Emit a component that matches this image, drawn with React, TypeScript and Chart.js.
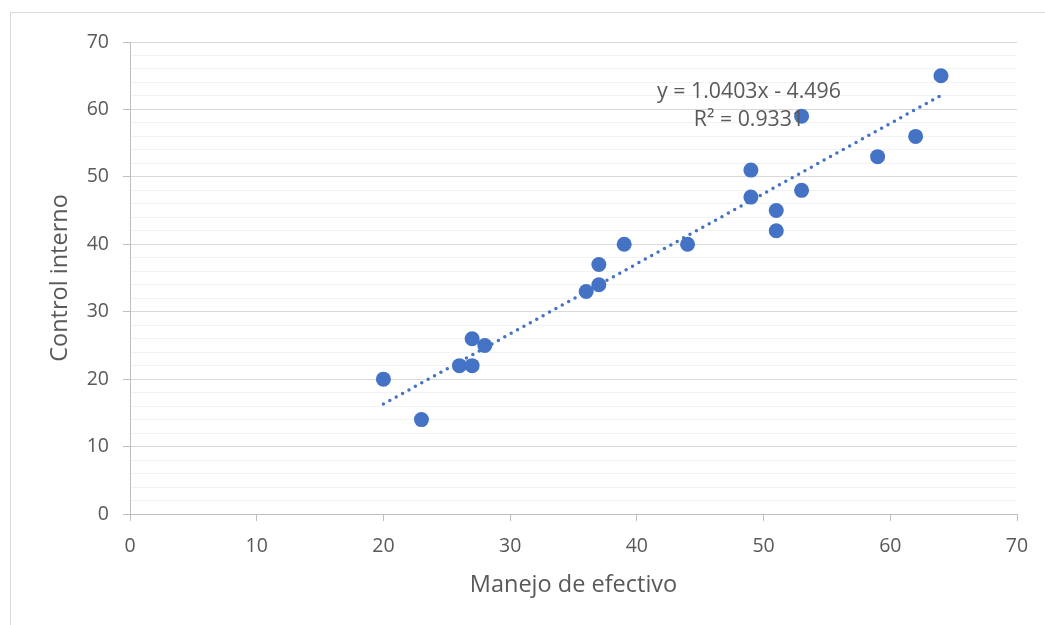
import React, { useEffect, useRef } from "react";
import { Chart, registerables } from "chart.js";

Chart.register(...registerables);

const manejoEfectivo = [20, 23, 26, 27, 27, 28, 36, 37, 37, 39, 44, 49, 49, 51, 51, 53, 53, 59, 62, 64];
const controlInterno = [20, 14, 22, 22, 26, 25, 33, 34, 37, 40, 40, 47, 51, 45, 42, 48, 59, 53, 56, 65];
const trendSlope = 1.0403;
const trendIntercept = -4.496;
const trendRange = [20, 64];
const equationLines = ["y = 1.0403x - 4.496", "R² = 0.9331"];
const xTitle = "Manejo de efectivo";
const yTitle = "Control interno";

const FONT = "'Open Sans', Lato, sans-serif";
const TEXT = "#595959";

export default function App() {
  const ref = useRef<HTMLCanvasElement>(null);

  useEffect(() => {
    if (!ref.current) return;
    const pts = manejoEfectivo.map((x, i) => ({ x, y: controlInterno[i] }));
    const trend = trendRange.map((x) => ({ x, y: trendSlope * x + trendIntercept }));

    const labelPlugin = {
      id: "eqLabel",
      afterDatasetsDraw(chart: any) {
        const { ctx, scales } = chart;
        const cx = scales.x.getPixelForValue(48.85);
        const cy = scales.y.getPixelForValue(62.6);
        ctx.save();
        ctx.font = `21.3px ${FONT}`;
        ctx.fillStyle = TEXT;
        ctx.textAlign = "center";
        ctx.textBaseline = "middle";
        ctx.fillText(equationLines[0], cx, cy);
        ctx.fillText(equationLines[1], cx, cy + 28);
        ctx.restore();
      },
    };

    const chart = new Chart(ref.current, {
      type: "scatter",
      data: {
        datasets: [
          {
            label: "Control interno",
            data: pts,
            backgroundColor: "#4472C4",
            borderColor: "#4472C4",
            borderWidth: 0,
            pointRadius: 7.5,
            pointHoverRadius: 7.5,
            order: 2,
          },
          {
            type: "line",
            label: "Lineal",
            data: trend,
            borderColor: "#4472C4",
            borderWidth: 3.5,
            borderDash: [0, 7.3],
            borderCapStyle: "round",
            pointRadius: 0,
            fill: false,
            order: 1,
          } as any,
        ],
      },
      options: {
        animation: false,
        responsive: false,
        maintainAspectRatio: false,
        layout: { padding: { top: 42, right: 28, left: 0, bottom: 0 } },
        plugins: { legend: { display: false }, tooltip: { enabled: false } },
        scales: {
          x: {
            type: "linear",
            min: 0,
            max: 70,
            afterFit: (s: any) => {
              s.height = 111;
            },
            border: { display: true, color: "#bfbfbf", width: 1 },
            grid: {
              drawOnChartArea: false,
              drawTicks: true,
              tickLength: 7,
              tickColor: "#bfbfbf",
            },
            ticks: {
              stepSize: 10,
              padding: 14,
              color: TEXT,
              font: { family: FONT, size: 19.5 },
            },
            title: {
              display: true,
              text: xTitle,
              color: TEXT,
              font: { family: FONT, size: 23.5 },
              padding: { top: 0, bottom: 26 },
            },
          },
          y: {
            type: "linear",
            min: 0,
            max: 70,
            afterFit: (s: any) => {
              s.width = 130;
            },
            border: { display: true, color: "#bfbfbf", width: 1 },
            grid: {
              color: (c: any) => (c.tick && c.tick.value % 10 === 0 ? "#d9d9d9" : "#f2f2f2"),
              tickColor: (c: any) => (c.tick && c.tick.value % 10 === 0 ? "#bfbfbf" : "rgba(0,0,0,0)"),
              tickLength: 7,
              lineWidth: 1,
            },
            ticks: {
              stepSize: 2,
              autoSkip: false,
              padding: 14,
              color: TEXT,
              font: { family: FONT, size: 19.5 },
              callback: (v: any) => (Number(v) % 10 === 0 ? String(v) : ""),
            },
            title: {
              display: true,
              text: yTitle,
              color: TEXT,
              font: { family: FONT, size: 23.5 },
              padding: { top: 46, bottom: 0 },
            },
          },
        },
      },
      plugins: [labelPlugin],
    });
    return () => chart.destroy();
  }, []);

  return (
    <div style={{ position: "fixed", left: 0, top: 0, width: 1045, height: 625, overflow: "hidden", background: "#fff" }}>
      <div
        style={{
          position: "absolute",
          left: 10,
          top: 12,
          width: 1100,
          height: 700,
          border: "1px solid #d9d9d9",
          boxSizing: "border-box",
        }}
      />
      <canvas ref={ref} width={1045} height={625} style={{ position: "absolute", left: 0, top: 0, width: 1045, height: 625 }} />
    </div>
  );
}
